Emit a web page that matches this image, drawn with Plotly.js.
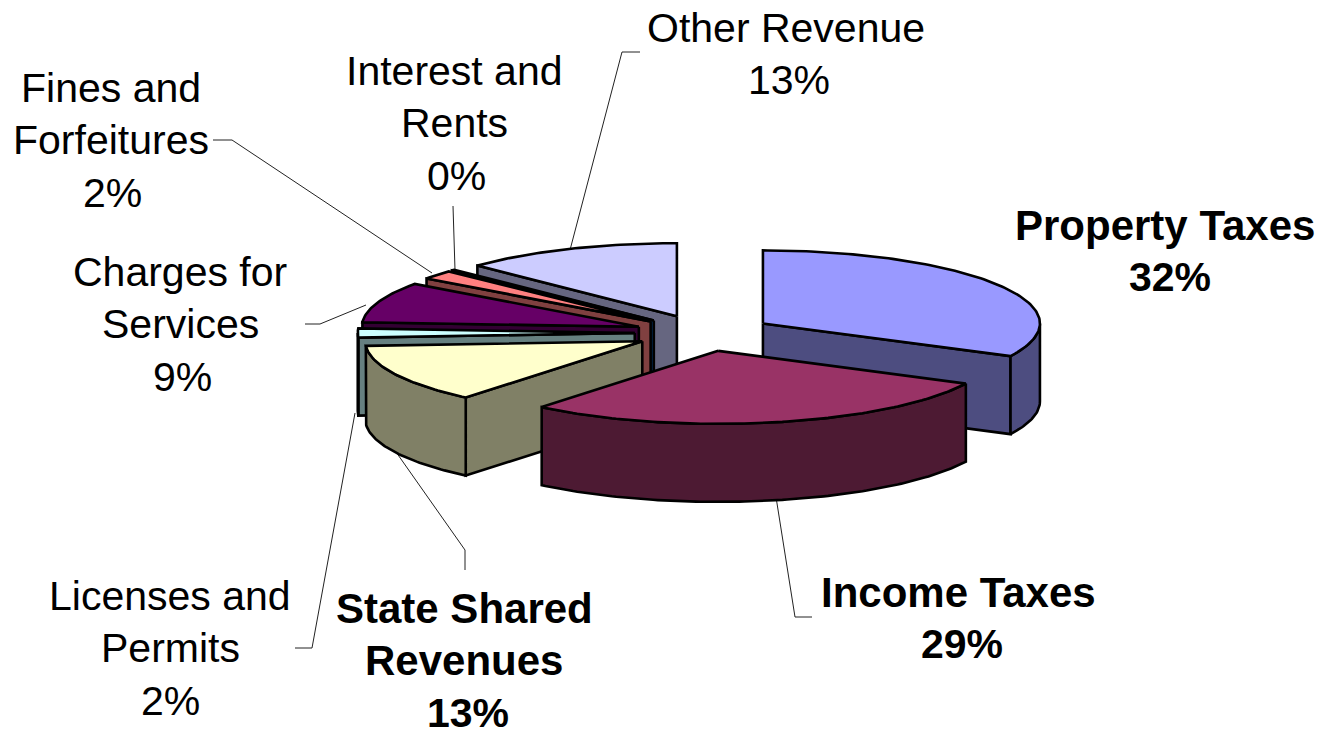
<!DOCTYPE html>
<html>
<head>
<meta charset="utf-8">
<script src="https://cdn.plot.ly/plotly-3.0.1.min.js"></script>
<style>html,body{margin:0;padding:0;background:#fff;overflow:hidden}#chart{width:1321px;height:730px}</style>
</head>
<body>
<div id="chart"></div>
<script>
// ---- data ----
const categories = ["Property Taxes","Income Taxes","State Shared Revenues","Licenses and Permits","Charges for Services","Fines and Forfeitures","Interest and Rents","Other Revenue"];
const labelLines = [["Property Taxes"],["Income Taxes"],["State Shared","Revenues"],["Licenses and","Permits"],["Charges for","Services"],["Fines and","Forfeitures"],["Interest and","Rents"],["Other Revenue"]];
const percents = [32.4,28.6,13,2,9,2,0.2,12.8];
const percentLabels = ["32%","29%","13%","2%","9%","2%","0%","13%"];
const boldLabel = [true,true,true,false,false,false,false,false];
const topColors = ["#9999FF","#993366","#FFFFCC","#CCFFFF","#660066","#FF8080","#0066CC","#CCCCFF"];
const sideColors = ["#4D4D80","#4D1A33","#808066","#668080","#330033","#804040","#003366","#666680"];

// ---- drawing geometry ----
const geo = {cx:704, cy:333, rx:277, ry:73, depth:78, explode:0.25};
const drawOrder = [7,6,5,4,3,2,0,1];
const labelCenters = [[1165,225],[958,592],[464,608],[170,596],[180,272],[111,88],[454,71],[786,28]];
const percentShift = [5,4,4,0,2,1,2,3];
const lineGap = 52.3;
const leaders = [
  {x:[640,622,570], y:[52,52,250]},
  {x:[453,453,455], y:[206,206,270]},
  {x:[213,232,432], y:[140,140,273]},
  {x:[305,320,366], y:[324,324,305]},
  {x:[295,312,355], y:[648,648,413]},
  {x:[465,465,396], y:[570,550,452]},
  {x:[812,795,776], y:[617,617,497]}
];

const total = percents.reduce((a,b)=>a+b,0);
const rad = d => d*Math.PI/180;
let acc = 0;
const slices = percents.map((p,i)=>{
  const a0 = acc/total*360; acc += p; const a1 = acc/total*360;
  const mid = rad((a0+a1)/2);
  const ax = geo.cx + geo.explode*geo.rx*Math.sin(mid);
  const ay = geo.cy - geo.explode*geo.ry*Math.cos(mid);
  return {i,a0,a1,ax,ay};
});
const rim = (s,a,dz=0)=>[s.ax+geo.rx*Math.sin(rad(a)), s.ay-geo.ry*Math.cos(rad(a))+dz];
function arc(s,a,b,dz=0){
  const pts=[]; const n=Math.max(2,Math.ceil(Math.abs(b-a)));
  for(let k=0;k<=n;k++) pts.push(rim(s,a+(b-a)*k/n,dz));
  return pts;
}
function poly(pts,fill){
  const xs=pts.map(p=>p[0]).concat(pts[0][0]);
  const ys=pts.map(p=>p[1]).concat(pts[0][1]);
  return {type:"scatter",mode:"lines",x:xs,y:ys,fill:"toself",fillcolor:fill,
    line:{color:"#000",width:2.6,shape:"linear"},hoverinfo:"skip",showlegend:false};
}
const traces=[];
leaders.forEach(l=>traces.push({type:"scatter",mode:"lines",x:l.x,y:l.y,
  line:{color:"#222",width:1},hoverinfo:"skip",showlegend:false}));
drawOrder.forEach(idx=>{
  const s=slices[idx], side=sideColors[idx];
  const d=geo.depth, apex=[s.ax,s.ay], apexB=[s.ax,s.ay+d];
  if(s.a0>180 && s.a0<360){ traces.push(poly([apex,rim(s,s.a0),rim(s,s.a0,d),apexB],side)); }
  if(s.a1>0 && s.a1<180){ traces.push(poly([apex,rim(s,s.a1),rim(s,s.a1,d),apexB],side)); }
  const w0=Math.max(s.a0,90), w1=Math.min(s.a1,270);
  if(w1>w0){ traces.push(poly(arc(s,w0,w1).concat(arc(s,w1,w0,d)),side)); }
  traces.push(poly([apex].concat(arc(s,s.a0,s.a1)),topColors[idx]));
});

const annotations=[];
categories.forEach((c,i)=>{
  const lines=labelLines[i].concat(percentLabels[i]);
  lines.forEach((t,k)=>{
    const isPct = k===lines.length-1;
    annotations.push({
      xref:"x",yref:"y",x:labelCenters[i][0]+(isPct?percentShift[i]:0),y:labelCenters[i][1]+k*lineGap,
      text:boldLabel[i]?"<b>"+t+"</b>":t,showarrow:false,xanchor:"center",yanchor:"middle",
      font:{family:"Liberation Sans, Arial, sans-serif",size:(boldLabel[i]&&!isPct)?42:41,color:"#000"}
    });
  });
});

Plotly.newPlot("chart",traces,{
  width:1321,height:730,autosize:false,
  margin:{l:0,r:0,t:0,b:0,pad:0},
  paper_bgcolor:"#fff",plot_bgcolor:"#fff",
  xaxis:{range:[0,1321],visible:false,fixedrange:true},
  yaxis:{range:[730,0],visible:false,fixedrange:true},
  showlegend:false,hovermode:false,annotations
},{displayModeBar:false,staticPlot:true});
</script>
</body>
</html>
